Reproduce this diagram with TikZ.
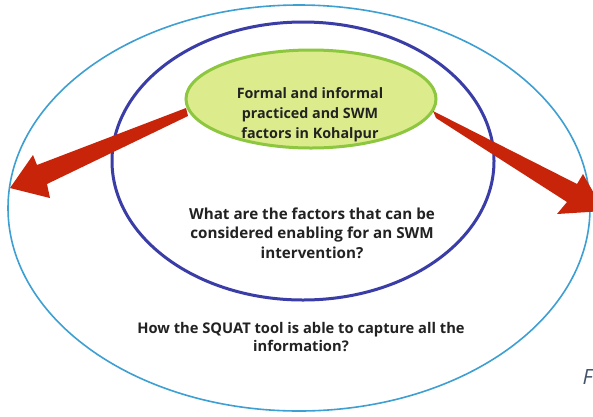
\documentclass[tikz,border=0pt]{standalone}
\usepackage{fontspec}
\setmainfont{Open Sans}
\definecolor{outerblue}{HTML}{3E9FD2}
\definecolor{innerblue}{HTML}{3A3DA6}
\definecolor{leafgreen}{HTML}{8DC63F}
\definecolor{limefill}{HTML}{DCEC8C}
\definecolor{arrowred}{HTML}{C8240A}
\definecolor{textdark}{HTML}{222222}
\definecolor{slate}{HTML}{44546A}
\tikzset{
  label text/.style={text=textdark, font=\bfseries\fontsize{15.2}{19.3}\selectfont, align=center},
  fat arrow/.style={fill=arrowred, draw=none}
}
\begin{document}
\begin{tikzpicture}[x=1pt,y=-1pt]
\useasboundingbox (0,0) rectangle (593,416);
\fill[white] (0,0) rectangle (593,416);

% outer and inner rings
\draw[outerblue, line width=1.6pt] (299,208) ellipse [x radius=291, y radius=203];
\draw[innerblue, line width=3pt] (303,161) ellipse [x radius=191, y radius=139];

% central topic
\draw[leafgreen, fill=limefill, line width=3pt] (311,99) ellipse [x radius=125, y radius=49];
\node[label text, font=\bfseries\fontsize{14.3}{20}\selectfont] (topic) at (310,115) {Formal and informal\\practiced and SWM\\factors in Kohalpur};

% questions
\node[label text] (enabling) at (312,233) {What are the factors that can be\\considered enabling for an SWM\\intervention?};
\node[label text, font=\bfseries\fontsize{14.7}{18.5}\selectfont] (squat) at (301,337) {How the SQUAT tool is able to capture all the\\information?};

% caption fragment at the edge
\node[text=slate, font=\itshape\fontsize{21}{21}\selectfont, anchor=west] (caption) at (579,377) {F};

% tapered arrows leaving the central topic
\coordinate (lt1) at (186,108);
\coordinate (lt2) at (188,116);
\path[fat arrow] (lt1) -- (37,165) -- (33,155) -- (10,188) -- (50,198) -- (47,184) -- (lt2) -- cycle;

\coordinate (rt1) at (433,111);
\coordinate (rt2) at (436,118);
\path[fat arrow] (rt1) -- (577,184) -- (583,174) -- (604,211) -- (557,214) -- (567,202) -- (rt2) -- cycle;
\end{tikzpicture}
\end{document}
